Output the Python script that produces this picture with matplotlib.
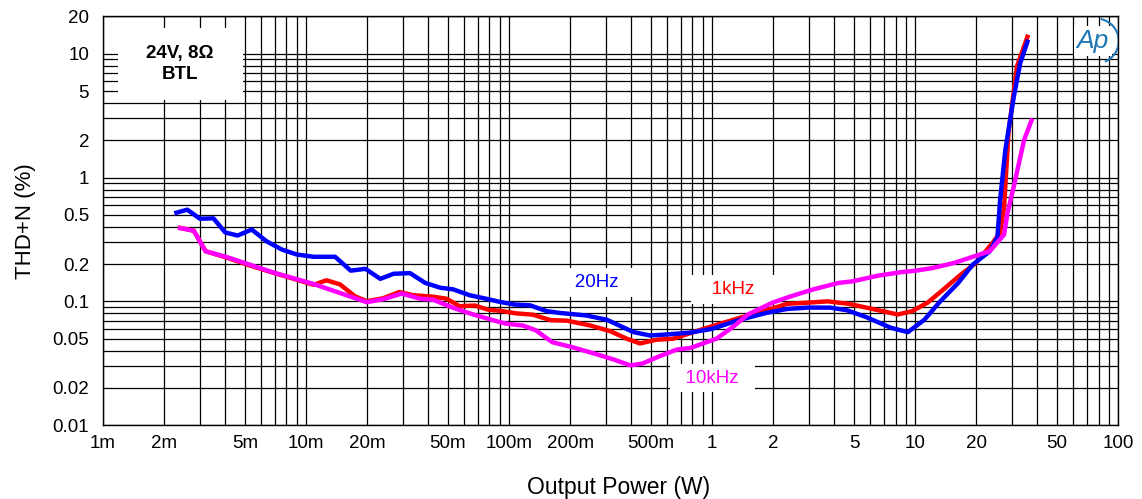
import matplotlib
matplotlib.use("Agg")
import matplotlib.pyplot as plt
from matplotlib.patches import Rectangle, Arc
from matplotlib.ticker import FixedLocator, FixedFormatter, NullFormatter

plt.rcParams["font.family"] = ["Liberation Sans", "DejaVu Sans"]

# 20Hz
p_20hz = [0.0023, 0.0026, 0.0030, 0.0035, 0.0040, 0.0046, 0.0054, 0.0064, 0.0076, 0.0090,
          0.0109, 0.0139, 0.0166, 0.0196, 0.0232, 0.0270, 0.0325, 0.0386, 0.0457, 0.053,
          0.064, 0.077, 0.090, 0.106, 0.127, 0.153, 0.179, 0.240, 0.303, 0.410,
          0.495, 0.596, 0.78, 1.0, 1.37, 1.85, 2.34, 2.94, 3.81, 4.6,
          5.74, 7.6, 9.2, 11.1, 13.1, 16.3, 19.2, 23.3, 25.4, 26.2,
          27.8, 30.6, 32.9, 35.7]
thd_20hz = [0.52, 0.55, 0.465, 0.468, 0.36, 0.34, 0.38, 0.305, 0.262, 0.239,
            0.229, 0.229, 0.177, 0.183, 0.152, 0.167, 0.169, 0.141, 0.129, 0.125,
            0.112, 0.105, 0.099, 0.0943, 0.0928, 0.0833, 0.0805, 0.0769, 0.071, 0.0564,
            0.053, 0.054, 0.0559, 0.060, 0.071, 0.0807, 0.0868, 0.089, 0.089, 0.0848,
            0.0746, 0.0611, 0.0564, 0.071, 0.0975, 0.141, 0.198, 0.254, 0.33, 0.66,
            1.68, 4.5, 8.4, 12.5]

# 1kHz
p_1khz = [0.0024, 0.0028, 0.0032, 0.0041, 0.0053, 0.0069, 0.0087, 0.0109, 0.0126, 0.0147,
          0.0174, 0.0199, 0.024, 0.0288, 0.0338, 0.0423, 0.0492, 0.057, 0.0679, 0.079,
          0.090, 0.108, 0.131, 0.160, 0.193, 0.251, 0.315, 0.380, 0.441, 0.532,
          0.643, 0.81, 1.0, 1.37, 1.85, 2.34, 2.94, 3.7, 4.7, 5.74,
          8.2, 9.6, 11.5, 13.8, 16.5, 19.9, 24.2, 26.2, 27.4, 28.8,
          31.7, 35.7]
thd_1khz = [0.392, 0.372, 0.254, 0.2245, 0.1945, 0.170, 0.152, 0.136, 0.148, 0.137,
            0.110, 0.1002, 0.106, 0.119, 0.112, 0.109, 0.105, 0.0914, 0.0925, 0.0855,
            0.084, 0.080, 0.078, 0.0705, 0.0698, 0.0638, 0.0574, 0.0499, 0.0457, 0.049,
            0.0499, 0.0565, 0.063, 0.0736, 0.0848, 0.0955, 0.0975, 0.100, 0.0955, 0.089,
            0.0783, 0.083, 0.0975, 0.125, 0.161, 0.204, 0.30, 0.36, 0.58, 2.29,
            7.9, 13.7]

# 10kHz
p_10khz = [0.0024, 0.0028, 0.0032, 0.0041, 0.0069, 0.0109, 0.0199, 0.024, 0.0296, 0.0364,
           0.0423, 0.053, 0.0665, 0.090, 0.097, 0.117, 0.135, 0.163, 0.207, 0.261,
           0.326, 0.395, 0.455, 0.550, 0.670, 0.780, 1.05, 1.28, 1.5, 1.98,
           2.45, 3.15, 4.2, 4.9, 6.6, 8.5, 10.1, 12.2, 15.5, 19.2,
           23.3, 27.4, 28.5, 30.6, 34.4, 37.4]
thd_10khz = [0.39, 0.372, 0.254, 0.227, 0.171, 0.138, 0.0985, 0.104, 0.1156, 0.105,
             0.103, 0.0887, 0.0783, 0.068, 0.066, 0.0638, 0.0585, 0.0468, 0.0424, 0.038,
             0.034, 0.0304, 0.0315, 0.036, 0.0408, 0.042, 0.0499, 0.063, 0.0783, 0.0975,
             0.110, 0.125, 0.141, 0.145, 0.1615, 0.172, 0.177, 0.186, 0.204, 0.229,
             0.254, 0.346, 0.52, 0.85, 2.02, 2.89]

x_ticks = [0.001, 0.002, 0.005, 0.01, 0.02, 0.05, 0.1, 0.2, 0.5, 1, 2, 5, 10, 20, 50, 100]
x_labels = ["1m", "2m", "5m", "10m", "20m", "50m", "100m", "200m", "500m",
            "1", "2", "5", "10", "20", "50", "100"]
y_ticks = [0.01, 0.02, 0.05, 0.1, 0.2, 0.5, 1, 2, 5, 10, 20]
y_labels = ["0.01", "0.02", "0.05", "0.1", "0.2", "0.5", "1", "2", "5", "10", "20"]

fig = plt.figure(figsize=(11.42, 4.99), dpi=100)
ax = fig.add_axes([0.0902, 0.148, 0.889, 0.819])
ax.set_xscale("log")
ax.set_yscale("log")
ax.set_xlim(0.001, 100)
ax.set_ylim(0.01, 20)

# grid: every 1..9 in each decade
grid_x = [m * 10.0 ** e for e in range(-3, 2) for m in range(1, 10)] + [100]
grid_y = [m * 10.0 ** e for e in range(-2, 2) for m in range(1, 10)] + [20]
for v in grid_x:
    ax.axvline(v, color="black", lw=0.9, zorder=1)
for v in grid_y:
    ax.axhline(v, color="black", lw=0.9, zorder=1)

ax.xaxis.set_major_locator(FixedLocator(x_ticks))
ax.xaxis.set_major_formatter(FixedFormatter(x_labels))
ax.xaxis.set_minor_formatter(NullFormatter())
ax.yaxis.set_major_locator(FixedLocator(y_ticks))
ax.yaxis.set_major_formatter(FixedFormatter(y_labels))
ax.yaxis.set_minor_formatter(NullFormatter())
ax.tick_params(which="both", length=0, labelsize=13.5)
ax.tick_params(axis="x", pad=7)
ax.tick_params(axis="y", pad=10)
for s in ax.spines.values():
    s.set_linewidth(1.0)

ax.plot(p_1khz, thd_1khz, color="#ff0000", lw=3.2, zorder=5)
ax.plot(p_20hz, thd_20hz, color="#0000ff", lw=3.2, zorder=6)
ax.plot(p_10khz, thd_10khz, color="#ff00ff", lw=3.2, zorder=7)

lab_box = dict(boxstyle="square,pad=0.3", fc="white", ec="none")
ax.text(0.27, 0.142, "   20Hz   ", color="#0000ff", fontsize=13.5, ha="center",
        va="center", bbox=lab_box, zorder=3)
ax.text(1.27, 0.1245, "   1kHz   ", color="#ff0000", fontsize=13.5, ha="center",
        va="center", bbox=lab_box, zorder=3)
ax.text(1.0, 0.0239, "  10kHz  ", color="#ff00ff", fontsize=13.5, ha="center",
        va="center", bbox=lab_box, zorder=3)

ax.add_patch(Rectangle((0.0148, 0.796), 0.123, 0.176, transform=ax.transAxes,
                       fc="white", ec="none", zorder=3))
ax.text(0.076, 0.884, "24V, 8\u03a9\nBTL", transform=ax.transAxes, fontsize=13.5,
        fontweight="bold", ha="center", va="center", linespacing=1.3, zorder=4)

# AP logo
ax.text(0.975, 0.94, "Ap", transform=ax.transAxes, fontsize=19, fontstyle="italic",
        color="#1f78b4", ha="center", va="center", zorder=4,
        bbox=dict(boxstyle="square,pad=0.1", fc="white", ec="none"))
ax.add_patch(Arc((0.978, 0.94), 0.045, 0.11, theta1=-80, theta2=85, transform=ax.transAxes,
                 color="#1f78b4", lw=1.5, zorder=5))

ax.set_xlabel("Output Power (W)", fontsize=16.5)
ax.xaxis.set_label_coords(0.508, -0.125)
ax.set_ylabel("THD+N (%)", fontsize=16, labelpad=12)

fig.savefig("out.png", dpi=100)
